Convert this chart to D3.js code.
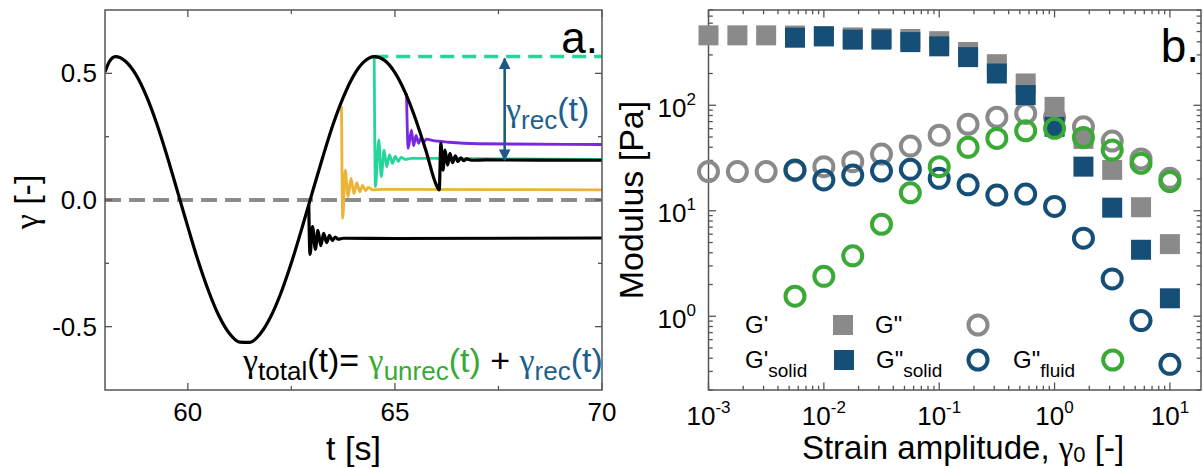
<!DOCTYPE html>
<html>
<head>
<meta charset="utf-8">
<script src="https://cdn.jsdelivr.net/npm/d3@7"></script>
<style>
  body { margin: 0; background: #fff; }
  text { font-family: "Liberation Sans", Arial, sans-serif; fill: #000; }
  .greek { font-family: "Liberation Serif", "DejaVu Serif", serif; }
</style>
</head>
<body>
<svg id="fig"></svg>
<script>
var width = 1203;
var height = 468;

// ---- panel a: strain vs time (t [s], gamma [-]) ----
var mainCurve = [
  [58.00, 0.505], [58.10, 0.545], [58.25, 0.566], [58.50, 0.547], [58.75, 0.494], [59.00, 0.410],
  [59.25, 0.301], [59.50, 0.173], [59.75, 0.034], [60.00, -0.106], [60.25, -0.241],
  [60.50, -0.359], [60.75, -0.457], [61.00, -0.526], [61.25, -0.561], [61.50, -0.562],
  [61.75, -0.528], [62.00, -0.461], [62.25, -0.366], [62.50, -0.248], [62.75, -0.114],
  [63.00, 0.027], [63.25, 0.165], [63.50, 0.295], [63.75, 0.404], [64.00, 0.490],
  [64.25, 0.545], [64.50, 0.566], [64.75, 0.551], [65.00, 0.503], [65.25, 0.424],
  [65.50, 0.319], [65.75, 0.194], [66.00, 0.059], [66.07, 0.040], [66.11, 0.224],
  [66.16, 0.118], [66.21, 0.197], [66.27, 0.138], [66.33, 0.184], [66.39, 0.147],
  [66.46, 0.174], [66.52, 0.152], [66.59, 0.166], [66.66, 0.155], [66.73, 0.162],
  [66.85, 0.157], [67.20, 0.158], [70.00, 0.157]
];
var blackRecovery = [
  [62.92, -0.02], [62.95, -0.215], [63.01, -0.105], [63.08, -0.195], [63.14, -0.12],
  [63.21, -0.18], [63.28, -0.132], [63.35, -0.168], [63.42, -0.14], [63.49, -0.16],
  [63.56, -0.146], [63.63, -0.155], [63.75, -0.151], [65.00, -0.152], [70.00, -0.150]
];
var yellowRecovery = [
  [63.71, 0.37], [63.74, -0.072], [63.80, 0.118], [63.87, 0.013], [63.94, 0.086],
  [64.01, 0.025], [64.08, 0.068], [64.15, 0.032], [64.22, 0.058], [64.29, 0.037],
  [64.36, 0.050], [64.46, 0.040], [64.70, 0.042], [70.00, 0.040]
];
var tealRecovery = [
  [64.50, 0.566], [64.53, 0.053], [64.61, 0.237], [64.67, 0.092], [64.74, 0.197],
  [64.80, 0.131], [64.87, 0.178], [64.94, 0.145], [65.01, 0.172], [65.08, 0.153],
  [65.15, 0.168], [65.25, 0.160], [65.40, 0.164], [70.00, 0.160]
];
var purpleRecovery = [
  [65.28, 0.42], [65.32, 0.204], [65.40, 0.276], [65.45, 0.214], [65.51, 0.255],
  [65.57, 0.224], [65.63, 0.245], [65.69, 0.228], [65.76, 0.240], [65.90, 0.235],
  [66.30, 0.228], [67.00, 0.222], [70.00, 0.219]
];
var peakLevel = [[64.50, 0.566], [70.00, 0.566]];
var recArrow = [67.65, 0.566, 0.158];   // t, top, bottom
var aTicksX = [60, 65, 70];
var aMinorX = [62.5, 67.5];
var aTicksY = [-0.5, 0.0, 0.5];
var aTickLabelsY = ["-0.5", "0.0", "0.5"];
var aMinorY = [-0.25, 0.25];

// ---- panel b: amplitude sweep ----
var strain = [0.001, 0.00178, 0.00316, 0.00562, 0.01, 0.0178, 0.0316, 0.0562, 0.1,
  0.178, 0.316, 0.562, 1, 1.78, 3.16, 5.62, 10];
var gPrime = [460, 460, 460, 458, 452, 440, 432, 425, 405, 320, 245, 161, 96.6, 48, 24.4, 10.8, 4.83];
var gDouble = [23.5, 23.5, 23.5, 24, 26.2, 29.2, 34.5, 41, 52, 66, 77, 83.6, 77, 62.5, 45.8, 31, 20.3];
var gPrimeSolid = [null, null, null, 437, 450, 419, 419, 397, 362, 286, 200, 125, 62.5, 26.2, 10.7, 4.27, 1.48];
var gDoubleSolid = [null, null, null, 24.4, 19.6, 21.8, 23.8, 24.7, 20.3, 17.6, 14.1, 14.4, 11.0, 5.5, 2.26, 0.91, 0.35];
var gDoubleFluid = [null, null, null, 1.55, 2.39, 3.74, 7.45, 14.8, 26.2, 39.9, 48.5, 57.3, 60.4, 49.6, 37.6, 28.2, 18.9];
var bTickExpX = ["-3", "-2", "-1", "0", "1"];
var bTickExpY = ["0", "1", "2"];

var black = "#000";
var yellow = "#ebb437";
var teal = "#25d69b";
var purple = "#7a28e0";
var grey = "#8a8a8a";
var blue = "#154f78";
var green = "#3aa935";
var recBlue = "#1d5f8c";
var frameColor = "#555";

var svg = d3.select("#fig")
  .attr("width", width)
  .attr("height", height)
  .style("display", "block");

svg.append("rect").attr("width", width).attr("height", height).attr("fill", "#fff");

// ================= panel a =================
var xa = d3.scaleLinear().domain([58, 70]).range([105, 602]);
var ya = d3.scaleLinear().domain([-0.75, 0.75]).range([390, 10]);

svg.append("clipPath").attr("id", "clipA")
  .append("rect").attr("x", 105).attr("y", 10).attr("width", 497).attr("height", 380);

var ga = svg.append("g").attr("clip-path", "url(#clipA)");

var lineA = d3.line()
  .x(function(d) { return xa(d[0]); })
  .y(function(d) { return ya(d[1]); })
  .curve(d3.curveMonotoneX);

// zero line
ga.append("line")
  .attr("x1", xa(58)).attr("x2", xa(70))
  .attr("y1", ya(0)).attr("y2", ya(0))
  .attr("stroke", "#8c8c8c")
  .attr("stroke-width", 4)
  .attr("stroke-dasharray", "16,8");

ga.append("path").datum(peakLevel)
  .attr("d", d3.line().x(function(d) { return xa(d[0]); }).y(function(d) { return ya(d[1]); }))
  .attr("fill", "none")
  .attr("stroke", teal)
  .attr("stroke-width", 3.5)
  .attr("stroke-dasharray", "14,8");

var curves = [
  [tealRecovery, teal],
  [yellowRecovery, yellow],
  [purpleRecovery, purple],
  [blackRecovery, black],
  [mainCurve, black]
];
curves.forEach(function(c) {
  ga.append("path").datum(c[0])
    .attr("d", lineA)
    .attr("fill", "none")
    .attr("stroke", c[1])
    .attr("stroke-width", c[1] === black ? 3.2 : 2.8)
    .attr("stroke-linejoin", "round");
});

// double arrow for gamma_rec
var defs = svg.append("defs");
defs.append("marker")
  .attr("id", "arrow")
  .attr("viewBox", "0 0 10 10")
  .attr("refX", 9).attr("refY", 5)
  .attr("markerWidth", 4.5).attr("markerHeight", 4.5)
  .attr("markerUnits", "strokeWidth")
  .attr("orient", "auto-start-reverse")
  .append("path").attr("d", "M0,0 L10,5 L0,10 Z").attr("fill", "#1d5a85");

svg.append("line")
  .attr("x1", xa(recArrow[0])).attr("x2", xa(recArrow[0]))
  .attr("y1", ya(recArrow[1]) + 2).attr("y2", ya(recArrow[2]))
  .attr("stroke", "#1d5a85")
  .attr("stroke-width", 2.6)
  .attr("marker-start", "url(#arrow)")
  .attr("marker-end", "url(#arrow)");

// frame + ticks
function frame(x0, y0, x1, y1) {
  svg.append("rect")
    .attr("x", x0).attr("y", y0)
    .attr("width", x1 - x0).attr("height", y1 - y0)
    .attr("fill", "none")
    .attr("stroke", frameColor)
    .attr("stroke-width", 1.5);
}
function tickX(xs, sc, y0, y1, len) {
  xs.forEach(function(v) {
    var x = sc(v);
    svg.append("line").attr("x1", x).attr("x2", x).attr("y1", y1).attr("y2", y1 - len)
      .attr("stroke", frameColor).attr("stroke-width", 1.3);
    svg.append("line").attr("x1", x).attr("x2", x).attr("y1", y0).attr("y2", y0 + len)
      .attr("stroke", frameColor).attr("stroke-width", 1.3);
  });
}
function tickY(ys, sc, x0, x1, len) {
  ys.forEach(function(v) {
    var y = sc(v);
    svg.append("line").attr("x1", x0).attr("x2", x0 + len).attr("y1", y).attr("y2", y)
      .attr("stroke", frameColor).attr("stroke-width", 1.3);
    svg.append("line").attr("x1", x1).attr("x2", x1 - len).attr("y1", y).attr("y2", y)
      .attr("stroke", frameColor).attr("stroke-width", 1.3);
  });
}

frame(105, 10, 602, 390);
tickX(aTicksX, xa, 10, 390, 7);
tickX(aMinorX, xa, 10, 390, 4);
tickY(aTicksY, ya, 105, 602, 7);
tickY(aMinorY, ya, 105, 602, 4);

aTicksX.forEach(function(v) {
  svg.append("text").attr("x", xa(v)).attr("y", 421)
    .attr("text-anchor", "middle").attr("font-size", 26).text(v);
});
aTicksY.forEach(function(v, i) {
  svg.append("text").attr("x", 97).attr("y", ya(v) + 9)
    .attr("text-anchor", "end").attr("font-size", 26).text(aTickLabelsY[i]);
});

svg.append("text").attr("x", 353.5).attr("y", 460)
  .attr("text-anchor", "middle").attr("font-size", 34).text("t [s]");

var yLabA = svg.append("text")
  .attr("transform", "translate(38,202) rotate(-90)")
  .attr("text-anchor", "middle").attr("font-size", 34);
yLabA.append("tspan").attr("class", "greek").text("γ");
yLabA.append("tspan").text(" [-]");

svg.append("text").attr("x", 598).attr("y", 53)
  .attr("text-anchor", "end").attr("font-size", 44).text("a.");

// rich text helper: parts are [text, colour, size, dy, greek]
function rich(x, y, parts) {
  var t = svg.append("text").attr("x", x).attr("y", y).attr("font-size", 34);
  parts.forEach(function(p) {
    var s = t.append("tspan").style("fill", p[1]).attr("font-size", p[2]).text(p[0]);
    if (p[3]) s.attr("dy", p[3]);
    if (p[4]) s.attr("class", "greek");
  });
  return t;
}

// gamma_rec label
rich(506, 121, [
  ["γ", recBlue, 34, 0, true],
  ["rec", recBlue, 26, 8],
  ["(t)", recBlue, 34, -8]
]);

// equation
rich(243, 372, [
  ["γ", black, 34, 0, true],
  ["total", black, 26, 8],
  ["(t)= ", black, 34, -8],
  ["γ", green, 34, 0, true],
  ["unrec", green, 26, 8],
  ["(t)", green, 34, -8],
  [" + ", black, 34, 0],
  ["γ", recBlue, 34, 0, true],
  ["rec", recBlue, 26, 8],
  ["(t)", recBlue, 34, -8]
]);

// ================= panel b =================
var xb = d3.scaleLog().domain([1e-3, 18.6]).range([708.5, 1201]);
var yb = d3.scaleLog().domain([0.2, 800]).range([390, 10]);

frame(708.5, 10, 1201, 390);

var majX = bTickExpX.map(function(e) { return Math.pow(10, +e); });
var minX = [];
for (var e = -3; e <= 1; e++) {
  for (var m = 2; m <= 9; m++) {
    var v = m * Math.pow(10, e);
    if (v < 18.6) minX.push(v);
  }
}
var majY = bTickExpY.map(function(e) { return Math.pow(10, +e); });
var minY = [];
for (var e2 = -1; e2 <= 2; e2++) {
  for (var m2 = 2; m2 <= 9; m2++) {
    var v2 = m2 * Math.pow(10, e2);
    if (v2 >= 0.2 && v2 <= 800) minY.push(v2);
  }
}
tickX(majX, xb, 10, 390, 7.5);
tickX(minX, xb, 10, 390, 4.3);
tickY(majY, yb, 708.5, 1201, 7.5);
tickY(minY, yb, 708.5, 1201, 4.3);

bTickExpX.forEach(function(e, i) {
  var t = svg.append("text").attr("x", xb(majX[i])).attr("y", 425)
    .attr("text-anchor", "middle").attr("font-size", 26);
  t.append("tspan").text("10");
  t.append("tspan").attr("font-size", 17).attr("dy", -12).text(e);
});
bTickExpY.forEach(function(e, i) {
  var t = svg.append("text").attr("x", 696).attr("y", yb(majY[i]) + 11.5)
    .attr("text-anchor", "end").attr("font-size", 26);
  t.append("tspan").text("10");
  t.append("tspan").attr("font-size", 17).attr("dy", -12).text(e);
});

var xLabB = svg.append("text").attr("x", 963).attr("y", 459)
  .attr("text-anchor", "middle").attr("font-size", 33);
xLabB.append("tspan").text("Strain amplitude, ");
xLabB.append("tspan").attr("class", "greek").text("γ");
xLabB.append("tspan").attr("font-size", 22).attr("dy", 3).text("0");
xLabB.append("tspan").attr("dy", -3).text(" [-]");

svg.append("text")
  .attr("transform", "translate(643,200) rotate(-90)")
  .attr("text-anchor", "middle").attr("font-size", 34).text("Modulus [Pa]");

svg.append("text").attr("x", 1199).attr("y", 62)
  .attr("text-anchor", "end").attr("font-size", 46).text("b.");

var gb = svg.append("g");
var sq = 20;
var rC = 9.5;

function squares(vals, col) {
  gb.selectAll(null)
    .data(vals.map(function(v, i) { return [strain[i], v]; }).filter(function(d) { return d[1] != null; }))
    .enter().append("rect")
    .attr("x", function(d) { return xb(d[0]) - sq / 2; })
    .attr("y", function(d) { return yb(d[1]) - sq / 2; })
    .attr("width", sq).attr("height", sq)
    .attr("fill", col);
}
function rings(vals, col) {
  gb.selectAll(null)
    .data(vals.map(function(v, i) { return [strain[i], v]; }).filter(function(d) { return d[1] != null; }))
    .enter().append("circle")
    .attr("cx", function(d) { return xb(d[0]); })
    .attr("cy", function(d) { return yb(d[1]); })
    .attr("r", rC)
    .attr("fill", "none")
    .attr("stroke", col)
    .attr("stroke-width", 4);
}
squares(gPrime, grey);
rings(gDouble, grey);
squares(gPrimeSolid, blue);
rings(gDoubleSolid, blue);
rings(gDoubleFluid, green);

// legend
function legText(x, y, main, sub) {
  var t = svg.append("text").attr("x", x).attr("y", y).attr("font-size", 24);
  t.append("tspan").text(main);
  if (sub) t.append("tspan").attr("font-size", 19).attr("dy", 9).text(sub);
}
legText(745, 333, "G'");
svg.append("rect").attr("x", 843 - sq / 2).attr("y", 325 - sq / 2).attr("width", sq).attr("height", sq).attr("fill", grey);
legText(875, 333, "G\"");
svg.append("circle").attr("cx", 978).attr("cy", 325).attr("r", rC).attr("fill", "none").attr("stroke", grey).attr("stroke-width", 4);

legText(745, 368, "G'", "solid");
svg.append("rect").attr("x", 844 - sq / 2).attr("y", 360 - sq / 2).attr("width", sq).attr("height", sq).attr("fill", blue);
legText(876, 368, "G\"", "solid");
svg.append("circle").attr("cx", 978).attr("cy", 360).attr("r", rC).attr("fill", "none").attr("stroke", blue).attr("stroke-width", 4);
legText(1013, 368, "G\"", "fluid");
svg.append("circle").attr("cx", 1112.7).attr("cy", 360).attr("r", rC).attr("fill", "none").attr("stroke", green).attr("stroke-width", 4);
</script>
</body>
</html>
